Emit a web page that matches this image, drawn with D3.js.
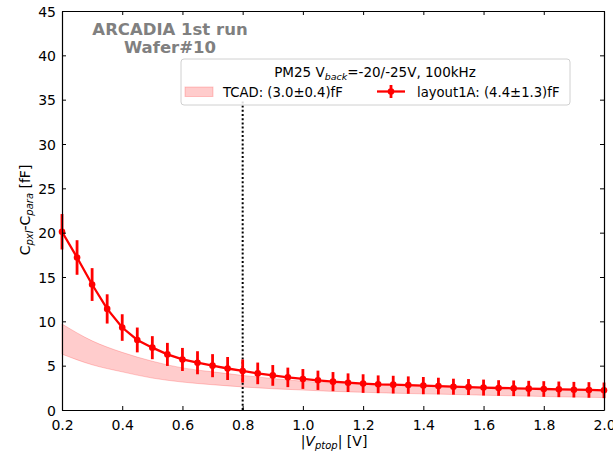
<!DOCTYPE html>
<html><head><meta charset="utf-8">
<script src="https://cdn.jsdelivr.net/npm/d3@7"></script>
<style>body{margin:0;background:#fff}text{font-family:"DejaVu Sans",sans-serif}</style>
</head><body>
<svg id="c" width="613" height="453"></svg>
<script>
const vptop = [0.2,0.25,0.3,0.35,0.4,0.45,0.5,0.55,0.6,0.65,0.7,0.75,0.8,0.85,0.9,0.95,1.0,1.05,1.1,1.15,1.2,1.25,1.3,1.35,1.4,1.45,1.5,1.55,1.6,1.65,1.7,1.75,1.8,1.85,1.9,1.95,2.0];
const cap = [20.1,17.2,14.15,11.4,9.3,7.9,7.03,6.27,5.7,5.33,5.0,4.68,4.4,4.13,3.9,3.68,3.5,3.35,3.2,3.08,2.98,2.9,2.86,2.81,2.75,2.7,2.63,2.59,2.53,2.48,2.45,2.41,2.37,2.33,2.29,2.26,2.22];
const capErr = [2.0,1.95,1.85,1.65,1.5,1.4,1.3,1.3,1.3,1.3,1.3,1.3,1.3,1.22,1.17,1.1,1.12,1.09,1.08,1.05,1.05,1.0,1.0,0.98,0.97,0.94,0.9,0.9,0.9,0.88,0.88,0.88,0.88,0.88,0.88,0.88,0.88];
const tcadV = [0.2,0.3,0.4,0.5,0.6,0.7,0.8,0.9,1.0,1.1,1.2,1.3,1.4,1.5,1.6,1.7,1.8,1.9,2.0];
const tcadHi = [9.7,7.8,6.5,5.5,4.75,4.3,3.9,3.55,3.25,3.05,2.9,2.78,2.68,2.6,2.52,2.46,2.4,2.35,2.3];
const tcadLo = [6.3,5.1,4.3,3.6,3.15,2.85,2.6,2.4,2.25,2.1,2.0,1.9,1.82,1.75,1.67,1.6,1.52,1.46,1.4];
const xTicks = [0.2,0.4,0.6,0.8,1.0,1.2,1.4,1.6,1.8,2.0];
const yTicks = [0,5,10,15,20,25,30,35,40,45];
const vLine = 0.8;

const svg = d3.select("#c");
const L=62,R=604,T=11,B=410;
const x = d3.scaleLinear().domain([0.2,2.0]).range([L,R]);
const y = d3.scaleLinear().domain([0,45]).range([B,T]);

// band
const band = tcadV.map((v,i)=>({v,lo:tcadLo[i],hi:tcadHi[i]}));
svg.append("path").datum(band)
  .attr("d", d3.area().x(d=>x(d.v)).y0(d=>y(d.lo)).y1(d=>y(d.hi)).curve(d3.curveMonotoneX))
  .attr("fill","rgba(255,0,0,0.2)").attr("stroke","rgba(255,0,0,0.2)").attr("stroke-width",1);

// dotted line
svg.append("line").attr("x1",x(vLine)).attr("x2",x(vLine)).attr("y1",y(0)).attr("y2",y(35))
  .attr("stroke","#000").attr("stroke-width",2).attr("stroke-dasharray","2,2.2");

// data
const pts = vptop.map((v,i)=>({v,c:cap[i],e:capErr[i]}));
svg.append("path").datum(pts).attr("d", d3.line().x(d=>x(d.v)).y(d=>y(d.c)))
  .attr("fill","none").attr("stroke","#f00").attr("stroke-width",2.3);
svg.selectAll(".eb").data(pts).enter().append("line")
  .attr("x1",d=>x(d.v)).attr("x2",d=>x(d.v)).attr("y1",d=>y(d.c-d.e)).attr("y2",d=>y(d.c+d.e))
  .attr("stroke","#f00").attr("stroke-width",2.8);
svg.selectAll(".mk").data(pts).enter().append("circle")
  .attr("cx",d=>x(d.v)).attr("cy",d=>y(d.c)).attr("r",3.3).attr("fill","#f00");

// axes
const ax = svg.append("g");
const xb = ax.append("g").attr("transform",`translate(0,${B})`).call(d3.axisBottom(x).tickValues(xTicks).tickFormat(d3.format(".1f")).tickSizeInner(-4).tickSizeOuter(0));
const xt = ax.append("g").attr("transform",`translate(0,${T})`).call(d3.axisTop(x).tickValues(xTicks).tickFormat("").tickSizeInner(-4).tickSizeOuter(0));
const yl = ax.append("g").attr("transform",`translate(${L},0)`).call(d3.axisLeft(y).tickValues(yTicks).tickSizeInner(-4).tickSizeOuter(0));
const yr = ax.append("g").attr("transform",`translate(${R},0)`).call(d3.axisRight(y).tickValues(yTicks).tickFormat("").tickSizeInner(-4).tickSizeOuter(0));
ax.selectAll(".domain").attr("stroke","#000").attr("stroke-width",1.2);
ax.selectAll(".tick line").attr("stroke","#000").attr("stroke-width",1);
ax.selectAll(".tick text").attr("font-size",14).attr("fill","#000").attr("font-family","DejaVu Sans");
xb.selectAll(".tick text").attr("dy",null).attr("y",20);
yl.selectAll(".tick text").attr("x",-6).attr("dy","0.36em");

// axis labels
const xlab = svg.append("text").attr("x",334).attr("y",446).attr("text-anchor","middle").attr("font-size",14);
xlab.append("tspan").text("|");
xlab.append("tspan").attr("font-style","italic").text("V");
xlab.append("tspan").attr("font-style","italic").attr("font-size",10).attr("dy",3).text("ptop");
xlab.append("tspan").attr("dy",-3).text("| [V]");

const ylab = svg.append("text").attr("transform","translate(30,210) rotate(-90)").attr("text-anchor","middle").attr("font-size",14);
ylab.append("tspan").text("C");
ylab.append("tspan").attr("font-style","italic").attr("font-size",10).attr("dy",3).text("pxl");
ylab.append("tspan").attr("dy",-3).text("-C");
ylab.append("tspan").attr("font-style","italic").attr("font-size",10).attr("dy",3).text("para");
ylab.append("tspan").attr("dy",-3).text(" [fF]");

// title
svg.append("text").attr("x",170).attr("y",35).attr("text-anchor","middle").attr("font-size",16.5).attr("font-weight","bold").attr("fill","#808080").text("ARCADIA 1st run");
svg.append("text").attr("x",170).attr("y",53).attr("text-anchor","middle").attr("font-size",16.5).attr("font-weight","bold").attr("fill","#808080").text("Wafer#10");

// legend
const lg = svg.append("g");
lg.append("rect").attr("x",181).attr("y",59).attr("width",389).attr("height",46).attr("rx",3)
  .attr("fill","rgba(255,255,255,0.85)").attr("stroke","#d0d0d0").attr("stroke-width",1);
const lt = lg.append("text").attr("x",375).attr("y",77).attr("text-anchor","middle").attr("font-size",13.5);
lt.append("tspan").text("PM25 V");
lt.append("tspan").attr("font-style","italic").attr("font-size",9.5).attr("dy",3).text("back");
lt.append("tspan").attr("dy",-3).text("=-20/-25V, 100kHz");
lg.append("rect").attr("x",185).attr("y",87).attr("width",28).attr("height",9.5)
  .attr("fill","rgba(255,0,0,0.2)").attr("stroke","rgba(255,0,0,0.2)");
lg.append("text").attr("x",223).attr("y",97).attr("font-size",13.2).text("TCAD: (3.0±0.4)fF");
lg.append("line").attr("x1",377).attr("x2",405).attr("y1",91.5).attr("y2",91.5).attr("stroke","#f00").attr("stroke-width",2.3);
lg.append("line").attr("x1",391).attr("x2",391).attr("y1",85).attr("y2",98).attr("stroke","#f00").attr("stroke-width",2.8);
lg.append("circle").attr("cx",391).attr("cy",91.5).attr("r",3.3).attr("fill","#f00");
lg.append("text").attr("x",417).attr("y",97).attr("font-size",13.2).text("layout1A: (4.4±1.3)fF");
</script>
</body></html>
